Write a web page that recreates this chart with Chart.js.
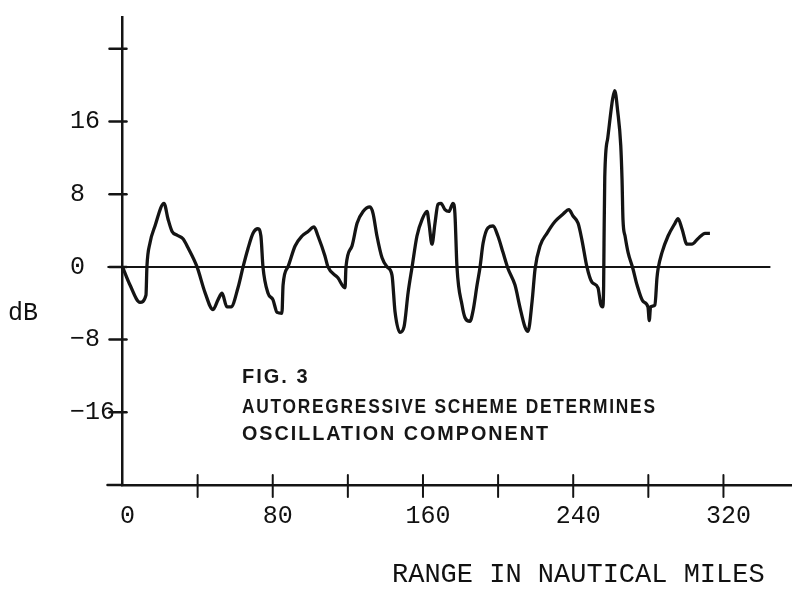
<!DOCTYPE html>
<html>
<head>
<meta charset="utf-8">
<script src="https://cdn.jsdelivr.net/npm/chart.js@4.4.1/dist/chart.umd.min.js"></script>
<style>
  html, body { margin: 0; padding: 0; background: #ffffff; }
  canvas { display: block; }
</style>
</head>
<body>
<canvas id="chart" width="792" height="593"></canvas>
<script>
// Range along the track (nautical miles) and the oscillation component (dB)
const RANGE_NM = [
  0, 4.0, 9.3, 12.5, 13.0, 14.6, 17.3, 22.1, 24.2, 26.4, 29.0, 32.2, 34.9, 39.7,
  43.9, 48.2, 50.9, 53.0, 55.6, 57.8, 61.5, 64.2, 66.8, 69.5, 72.1, 73.7, 74.8,
  77.5, 80.1, 82.3, 84.9, 85.5, 88.1, 91.9, 95.6, 98.8, 102.0, 104.1, 107.8, 109.4,
  114.7, 118.5, 119.0, 122.2, 124.9, 128.1, 131.8, 133.4, 135.5, 138.2, 140.9,
  143.5, 145.1, 147.8, 149.9, 152.1, 154.2, 156.8, 159.5, 162.2, 163.2, 164.8,
  166.4, 168.0, 169.6, 171.7, 173.8, 176.0, 177.0, 178.1, 180.8, 182.4, 185.0,
  186.6, 188.8, 190.4, 192.0, 194.6, 197.3, 199.9, 202.6, 205.3, 209.0, 211.7,
  214.3, 215.9, 218.1, 219.7, 222.3, 226.0, 230.3, 234.5, 237.7, 239.9, 242.6,
  244.7, 247.3, 250.0, 253.2, 254.6, 255.7, 256.2, 256.4, 256.8, 258.4, 261.0,
  262.1, 263.7, 265.3, 266.0, 266.5, 267.6, 269.2, 271.8, 274.0, 277.2, 279.8,
  280.5, 281.2, 283.5, 284.6, 285.2, 287.3, 290.5, 294.2, 295.8, 297.9, 300.6,
  303.2, 306.4, 310.2, 312.8
];
const LEVEL_DB = [
  0, -2.0, -3.9, -3.1, 0, 2.6, 4.5, 7.0, 5.3, 3.9, 3.5, 3.1, 2.1, 0,
  -2.8, -4.7, -3.6, -2.9, -4.4, -4.4, -2.3, 0, 2.0, 3.7, 4.2, 3.4, 0,
  -2.9, -3.6, -5.0, -5.1, -2.0, 0, 2.3, 3.4, 3.9, 4.4, 3.4, 1.2, 0,
  -1.2, -2.3, 0, 2.3, 4.8, 6.1, 6.6, 5.9, 3.4, 1.0, 0,
  -0.9, -4.9, -7.2, -6.6, -2.8, 0, 3.4, 5.2, 6.1, 4.8, 2.5,
  4.8, 6.9, 7.0, 6.3, 6.1, 7.0, 5.9, 0, -4.2, -5.6, -6.0,
  -4.9, -2.0, 0, 2.6, 4.3, 4.5, 3.4, 1.6, -0.2, -2.0, -4.5,
  -6.6, -7.1, -3.8, -0.2, 2.3, 3.7, 5.0, 5.8, 6.3, 5.6, 4.8,
  2.9, 0, -1.7, -2.3, -4.1, -4.4, -2.0, 2.6, 9.9, 14.2, 18.5,
  19.4, 17.1, 13.4, 9.6, 5.2, 3.4, 1.6, -0.2, -2.0, -3.8, -4.4,
  -5.9, -4.4, -4.2, -1.2, -0.2, 1.6, 3.4, 4.8, 5.3, 4.2, 2.5,
  2.5, 3.1, 3.7, 3.7
];

// Axis ticks and their printed labels
const X_TICKS = [0, 40, 80, 120, 160, 200, 240, 280, 320];
const X_TICK_LABELS = ['0', '', '80', '', '160', '', '240', '', '320'];
const Y_TICKS = [-16, -8, 0, 8, 16, 24];
const Y_TICK_LABELS = ['\u221216', '\u22128', '0', '8', '16', ''];

// Text drawn on the figure
const Y_TITLE = 'dB';
const X_TITLE = 'RANGE IN NAUTICAL MILES';
const CAPTION = ['FIG. 3', 'AUTOREGRESSIVE SCHEME DETERMINES', 'OSCILLATION COMPONENT'];

const INK = '#141414';
const TEXT = '#111111';
const MONO = '"Liberation Mono", "DejaVu Sans Mono", monospace';

const points = RANGE_NM.map((x, i) => ({ x, y: LEVEL_DB[i] }));

// Hand-drawn style frame: zero reference line, crossing tick marks, titles, caption
const framePlugin = {
  id: 'frame',
  beforeDraw(chart) {
    const { ctx } = chart;
    ctx.save();
    ctx.fillStyle = '#ffffff';
    ctx.fillRect(0, 0, chart.width, chart.height);
    ctx.restore();
  },
  beforeDatasetsDraw(chart) {
    const { ctx, scales: { x, y } } = chart;
    ctx.save();
    ctx.strokeStyle = INK;
    ctx.lineWidth = 2;
    const y0 = y.getPixelForValue(0);
    ctx.beginPath();
    ctx.moveTo(x.getPixelForValue(-8), y0);
    ctx.lineTo(x.getPixelForValue(345), y0);
    ctx.stroke();
    ctx.restore();
  },
  afterDraw(chart) {
    const { ctx, chartArea: a, scales: { x, y } } = chart;
    ctx.save();
    ctx.strokeStyle = INK;
    ctx.lineWidth = 2.5;
    ctx.lineCap = 'round';
    // x axis continues a little past the y axis
    ctx.beginPath();
    ctx.moveTo(a.left - 15, a.bottom);
    ctx.lineTo(a.left, a.bottom);
    ctx.stroke();
    // y tick marks crossing the axis
    Y_TICKS.forEach(v => {
      const py = y.getPixelForValue(v);
      ctx.beginPath();
      ctx.moveTo(a.left - 13, py);
      ctx.lineTo(a.left + 4, py);
      ctx.stroke();
    });
    // x tick marks crossing the axis
    ctx.lineWidth = 2;
    X_TICKS.forEach(v => {
      if (v === 0) return;
      const px = x.getPixelForValue(v);
      ctx.beginPath();
      ctx.moveTo(px, a.bottom - 10);
      ctx.lineTo(px, a.bottom + 12);
      ctx.stroke();
    });

    ctx.fillStyle = TEXT;
    ctx.textBaseline = 'alphabetic';
    ctx.textAlign = 'left';
    ctx.font = '25px ' + MONO;
    ctx.fillText(Y_TITLE, 8, 320);
    ctx.font = '27px ' + MONO;
    ctx.fillText(X_TITLE, 392, 582);

    // caption block: letter-spaced bold sans, squeezed horizontally to its line width
    const widths = [68, 413, 306];
    const baselines = [383, 413, 440];
    ctx.fillStyle = '#161616';
    ctx.font = 'bold 20px "Liberation Sans", Arial, sans-serif';
    ctx.letterSpacing = '2px';
    CAPTION.forEach((line, i) => {
      const w = ctx.measureText(line).width - 2;
      ctx.save();
      ctx.translate(242, baselines[i]);
      ctx.scale(Math.min(1, widths[i] / w), 1);
      ctx.fillText(line, 0, 0);
      ctx.restore();
    });
    ctx.letterSpacing = '0px';
    ctx.restore();
  }
};

new Chart(document.getElementById('chart'), {
  type: 'line',
  data: {
    datasets: [{
      data: points,
      borderColor: INK,
      borderWidth: 3.3,
      pointRadius: 0,
      cubicInterpolationMode: 'monotone',
      fill: false
    }]
  },
  options: {
    responsive: false,
    animation: false,
    devicePixelRatio: 1,
    layout: { padding: { left: 70, top: 7, right: 0, bottom: 0 } },
    plugins: { legend: { display: false }, tooltip: { enabled: false } },
    scales: {
      x: {
        type: 'linear',
        min: 0,
        max: 356.5,
        afterFit: s => { s.height = 108; },
        afterBuildTicks: s => { s.ticks = X_TICKS.map(v => ({ value: v })); },
        grid: { display: false, drawTicks: true, tickLength: 12 },
        border: { display: true, color: INK, width: 2.5 },
        ticks: {
          padding: 4,
          labelOffset: 5,
          maxRotation: 0,
          autoSkip: false,
          color: TEXT,
          font: { family: MONO, size: 25 },
          callback: (v) => X_TICK_LABELS[X_TICKS.indexOf(v)] ?? ''
        }
      },
      y: {
        type: 'linear',
        min: -24,
        max: 27.5,
        afterFit: s => { s.width = 52.5; },
        afterBuildTicks: s => { s.ticks = Y_TICKS.map(v => ({ value: v })); },
        grid: { display: false, drawTicks: true, tickLength: 13 },
        border: { display: true, color: INK, width: 2.5 },
        ticks: {
          crossAlign: 'far',
          padding: 2,
          autoSkip: false,
          color: TEXT,
          font: { family: MONO, size: 25 },
          callback: (v) => Y_TICK_LABELS[Y_TICKS.indexOf(v)] ?? ''
        }
      }
    }
  },
  plugins: [framePlugin]
});
</script>
</body>
</html>
